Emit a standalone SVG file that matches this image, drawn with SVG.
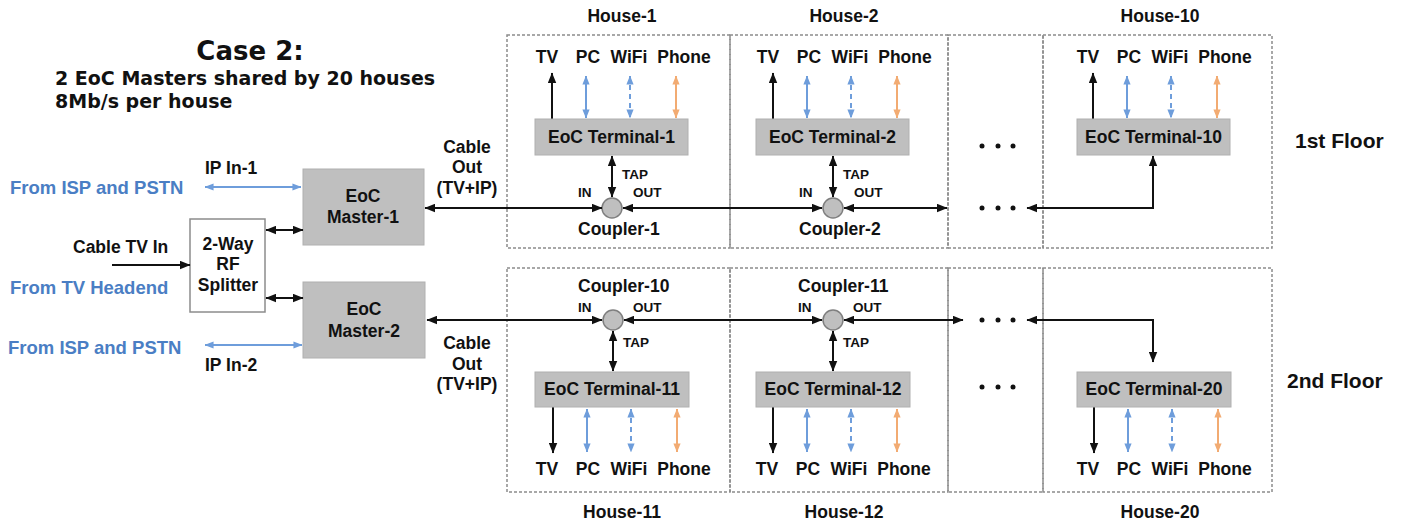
<svg xmlns="http://www.w3.org/2000/svg" width="1402" height="530" viewBox="0 0 1402 530">
<style>
.t{font-family:"Liberation Sans",Arial,sans-serif;font-weight:bold;fill:#111;font-size:17.5px}
.s{font-size:13.5px}
.fl{font-size:21px}
.m{text-anchor:middle}
.blue{fill:#4a7ec4;font-size:18.5px}
.v{font-family:"DejaVu Sans",Verdana,sans-serif;font-weight:bold;fill:#111}
.house{fill:none;stroke:#8c8c8c;stroke-width:1.5;stroke-dasharray:3 2}
.box{fill:#bfbfbf;stroke:#b0b0b0;stroke-width:1}
.wbox{fill:#fff;stroke:#8c8c8c;stroke-width:1.5}
.cp{fill:#bfbfbf;stroke:#7f7f7f;stroke-width:1.5}
.kb{stroke:#111;stroke-width:2;fill:none;marker-start:url(#ak);marker-end:url(#ak)}
.ke{stroke:#111;stroke-width:2;fill:none;marker-end:url(#ak)}
.bl{stroke:#6e9ddb;stroke-width:2;marker-start:url(#ab);marker-end:url(#ab)}
.bd{stroke:#6e9ddb;stroke-width:2;stroke-dasharray:5 4;marker-start:url(#ab);marker-end:url(#ab)}
.or{stroke:#f2ab72;stroke-width:2;marker-start:url(#ao);marker-end:url(#ao)}
.dot{fill:#111}
</style>
<defs>
<marker id="ak" viewBox="0 0 10 8" refX="9.5" refY="4" markerWidth="11" markerHeight="9" markerUnits="userSpaceOnUse" orient="auto-start-reverse"><path d="M0,0 L10,4 L0,8 z" fill="#111"/></marker>
<marker id="ab" viewBox="0 0 10 8" refX="9.5" refY="4" markerWidth="9" markerHeight="8" markerUnits="userSpaceOnUse" orient="auto-start-reverse"><path d="M0,0 L10,4 L0,8 z" fill="#6e9ddb"/></marker>
<marker id="ao" viewBox="0 0 10 8" refX="9.5" refY="4" markerWidth="9" markerHeight="8" markerUnits="userSpaceOnUse" orient="auto-start-reverse"><path d="M0,0 L10,4 L0,8 z" fill="#f2ab72"/></marker>
</defs>
<rect width="1402" height="530" fill="#fff"/>

<g id="title">
<text class="v" x="250" y="60" text-anchor="middle" font-size="26">Case 2:</text>
<text class="v" x="55" y="85" font-size="19">2 EoC Masters shared by 20 houses</text>
<text class="v" x="55" y="108" font-size="19">8Mb/s per house</text>
</g>

<g id="inputs">
<text class="t blue" x="10" y="194">From ISP and PSTN</text>
<text class="t" x="205" y="174">IP In-1</text>
<text class="t" x="73" y="253">Cable TV In</text>
<text class="t blue" x="10" y="294">From TV Headend</text>
<text class="t blue" x="8" y="354">From ISP and PSTN</text>
<text class="t" x="205" y="371">IP In-2</text>
</g>

<g id="splitter">
<rect class="wbox" x="190" y="219" width="75" height="93"/>
<text class="t m" x="228" y="250">2-Way</text>
<text class="t m" x="228" y="270">RF</text>
<text class="t m" x="228" y="291">Splitter</text>
</g>

<g id="master-1">
<rect class="box" x="303" y="169" width="121" height="76"/>
<text class="t m" x="363" y="202">EoC</text>
<text class="t m" x="363" y="223">Master-1</text>
</g>
<g id="master-2">
<rect class="box" x="303" y="282" width="122" height="76"/>
<text class="t m" x="364" y="315">EoC</text>
<text class="t m" x="364" y="337">Master-2</text>
</g>

<g id="cable-out-labels">
<text class="t m" x="467" y="153">Cable</text>
<text class="t m" x="467" y="173">Out</text>
<text class="t m" x="467" y="194">(TV+IP)</text>
<text class="t m" x="467" y="349">Cable</text>
<text class="t m" x="467" y="370">Out</text>
<text class="t m" x="467" y="390">(TV+IP)</text>
</g>

<g id="house-boxes">
<rect class="house" x="507" y="35" width="223" height="213"/>
<rect class="house" x="730" y="35" width="218" height="213"/>
<rect class="house" x="948" y="35" width="95" height="213"/>
<rect class="house" x="1043" y="35" width="229" height="213"/>
<rect class="house" x="507" y="268" width="223" height="224"/>
<rect class="house" x="730" y="268" width="218" height="224"/>
<rect class="house" x="948" y="268" width="95" height="224"/>
<rect class="house" x="1043" y="268" width="229" height="224"/>
</g>

<g id="house-labels">
<text class="t m" x="622" y="22">House-1</text>
<text class="t m" x="844" y="22">House-2</text>
<text class="t m" x="1160" y="22">House-10</text>
<text class="t m" x="622" y="518">House-11</text>
<text class="t m" x="844" y="518">House-12</text>
<text class="t m" x="1160" y="518">House-20</text>
<text class="t fl" x="1295" y="148">1st Floor</text>
<text class="t fl" x="1287" y="388">2nd Floor</text>
</g>

<g id="house-1">
<text class="t m" x="547" y="63">TV</text><text class="t m" x="588" y="63">PC</text><text class="t m" x="629" y="63">WiFi</text><text class="t m" x="684" y="63">Phone</text>
<line class="ke" x1="552" y1="119" x2="552" y2="73"/>
<line class="bl" x1="586" y1="76" x2="586" y2="118"/>
<line class="bd" x1="630" y1="76" x2="630" y2="118"/>
<line class="or" x1="676" y1="76" x2="676" y2="118"/>
<rect class="box" x="535" y="119" width="153" height="36"/>
<text class="t m" x="611.5" y="143">EoC Terminal-1</text>
</g>
<g id="coupler-1">
<circle class="cp" cx="612" cy="208" r="10"/>
<text class="t s" x="622" y="179">TAP</text>
<text class="t s" x="578" y="197">IN</text>
<text class="t s" x="633" y="197">OUT</text>
<text class="t" x="578" y="235">Coupler-1</text>
</g>

<g id="house-2" transform="translate(221,0)">
<text class="t m" x="547" y="63">TV</text><text class="t m" x="588" y="63">PC</text><text class="t m" x="629" y="63">WiFi</text><text class="t m" x="684" y="63">Phone</text>
<line class="ke" x1="552" y1="119" x2="552" y2="73"/>
<line class="bl" x1="586" y1="76" x2="586" y2="118"/>
<line class="bd" x1="630" y1="76" x2="630" y2="118"/>
<line class="or" x1="676" y1="76" x2="676" y2="118"/>
<rect class="box" x="535" y="119" width="153" height="36"/>
<text class="t m" x="611.5" y="143">EoC Terminal-2</text>
</g>
<g id="coupler-2" transform="translate(221,0)">
<circle class="cp" cx="612" cy="208" r="10"/>
<text class="t s" x="622" y="179">TAP</text>
<text class="t s" x="578" y="197">IN</text>
<text class="t s" x="633" y="197">OUT</text>
<text class="t" x="578" y="235">Coupler-2</text>
</g>

<g id="house-10" transform="translate(541,0)">
<text class="t m" x="547" y="63">TV</text><text class="t m" x="588" y="63">PC</text><text class="t m" x="629" y="63">WiFi</text><text class="t m" x="684" y="63">Phone</text>
<line class="ke" x1="552" y1="119" x2="552" y2="73"/>
<line class="bl" x1="586" y1="76" x2="586" y2="118"/>
<line class="bd" x1="630" y1="76" x2="630" y2="118"/>
<line class="or" x1="676" y1="76" x2="676" y2="118"/>
<rect class="box" x="536" y="119" width="153" height="36"/>
<text class="t m" x="612.5" y="143">EoC Terminal-10</text>
</g>

<g id="house-11">
<line class="ke" x1="553" y1="407" x2="553" y2="453"/>
<line class="bl" x1="587" y1="409" x2="587" y2="452"/>
<line class="bd" x1="631" y1="409" x2="631" y2="452"/>
<line class="or" x1="677" y1="409" x2="677" y2="452"/>
<rect class="box" x="535" y="372" width="154" height="35"/>
<text class="t m" x="612" y="395">EoC Terminal-11</text>
<text class="t m" x="547" y="475">TV</text><text class="t m" x="588" y="475">PC</text><text class="t m" x="629" y="475">WiFi</text><text class="t m" x="684" y="475">Phone</text>
</g>
<g id="coupler-10">
<circle class="cp" cx="613" cy="320" r="10"/>
<text class="t" x="578" y="292">Coupler-10</text>
<text class="t s" x="578" y="312">IN</text>
<text class="t s" x="633" y="312">OUT</text>
<text class="t s" x="623" y="347">TAP</text>
</g>

<g id="house-12" transform="translate(220,0)">
<line class="ke" x1="553" y1="407" x2="553" y2="453"/>
<line class="bl" x1="587" y1="409" x2="587" y2="452"/>
<line class="bd" x1="631" y1="409" x2="631" y2="452"/>
<line class="or" x1="677" y1="409" x2="677" y2="452"/>
<rect class="box" x="536" y="372" width="154" height="35"/>
<text class="t m" x="613" y="395">EoC Terminal-12</text>
<text class="t m" x="547" y="475">TV</text><text class="t m" x="588" y="475">PC</text><text class="t m" x="629" y="475">WiFi</text><text class="t m" x="684" y="475">Phone</text>
</g>
<g id="coupler-11" transform="translate(220,0)">
<circle class="cp" cx="613" cy="320" r="10"/>
<text class="t" x="578" y="292">Coupler-11</text>
<text class="t s" x="578" y="312">IN</text>
<text class="t s" x="633" y="312">OUT</text>
<text class="t s" x="623" y="347">TAP</text>
</g>

<g id="house-20" transform="translate(541,0)">
<line class="ke" x1="553" y1="407" x2="553" y2="453"/>
<line class="bl" x1="587" y1="409" x2="587" y2="452"/>
<line class="bd" x1="631" y1="409" x2="631" y2="452"/>
<line class="or" x1="677" y1="409" x2="677" y2="452"/>
<rect class="box" x="536" y="372" width="154" height="35"/>
<text class="t m" x="613" y="395">EoC Terminal-20</text>
<text class="t m" x="547" y="475">TV</text><text class="t m" x="588" y="475">PC</text><text class="t m" x="629" y="475">WiFi</text><text class="t m" x="684" y="475">Phone</text>
</g>

<g id="ellipses">
<circle class="dot" cx="982" cy="146" r="2.5"/><circle class="dot" cx="998" cy="146" r="2.5"/><circle class="dot" cx="1013" cy="146" r="2.5"/>
<circle class="dot" cx="982" cy="208" r="2.5"/><circle class="dot" cx="998" cy="208" r="2.5"/><circle class="dot" cx="1013" cy="208" r="2.5"/>
<circle class="dot" cx="982" cy="320" r="2.5"/><circle class="dot" cx="998" cy="320" r="2.5"/><circle class="dot" cx="1013" cy="320" r="2.5"/>
<circle class="dot" cx="982" cy="387" r="2.5"/><circle class="dot" cx="998" cy="387" r="2.5"/><circle class="dot" cx="1013" cy="387" r="2.5"/>
</g>

<g id="connectors">
<line class="bl" x1="205" y1="187" x2="301" y2="187"/>
<line class="bl" x1="205" y1="345" x2="302" y2="345"/>
<line class="ke" x1="112" y1="265" x2="190" y2="265"/>
<line class="kb" x1="266" y1="230" x2="303" y2="230"/>
<line class="kb" x1="266" y1="298" x2="303" y2="298"/>
<line class="kb" x1="425" y1="208" x2="602" y2="208"/>
<line class="kb" x1="623" y1="208" x2="822" y2="208"/>
<line class="kb" x1="844" y1="208" x2="947" y2="208"/>
<polyline class="kb" points="1027,208 1153,208 1153,156"/>
<line class="kb" x1="612" y1="156" x2="612" y2="197"/>
<line class="kb" x1="833" y1="156" x2="833" y2="197"/>
<line class="kb" x1="427" y1="320" x2="602" y2="320"/>
<line class="kb" x1="624" y1="320" x2="822" y2="320"/>
<line class="kb" x1="844" y1="320" x2="963" y2="320"/>
<polyline class="kb" points="1027,320 1153,320 1153,362"/>
<line class="kb" x1="613" y1="331" x2="613" y2="371"/>
<line class="kb" x1="833" y1="331" x2="833" y2="371"/>
</g>
</svg>
